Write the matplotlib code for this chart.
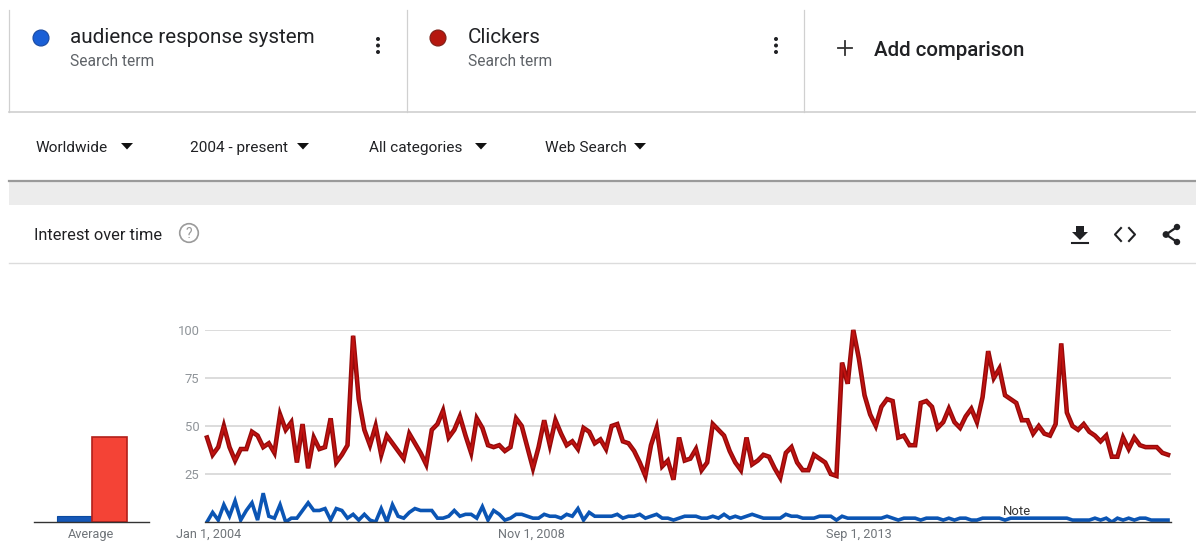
import matplotlib
matplotlib.use('Agg')
import matplotlib.pyplot as plt
import matplotlib.patheffects as pe
from matplotlib.patches import Circle, Polygon, Rectangle

plt.rcParams['font.family'] = ['Roboto', 'DejaVu Sans']

clickers = [44, 35, 39, 50, 39, 32, 38, 38, 47, 45, 39, 41, 36, 56, 48, 52, 31, 51, 28, 44,
            38, 39, 54, 31, 35, 40, 97, 64, 48, 40, 50, 35, 45, 41, 37, 33, 46, 41, 36, 30,
            48, 51, 58, 44, 48, 55, 45, 36, 54, 49, 40, 39, 40, 37, 39, 54, 50, 39, 28, 39,
            53, 40, 53, 46, 40, 42, 38, 49, 47, 41, 43, 38, 50, 51, 42, 41, 37, 31, 24, 40,
            49, 29, 32, 22, 44, 32, 33, 38, 27, 31, 51, 48, 45, 37, 31, 27, 44, 30, 32, 35,
            34, 28, 23, 36, 39, 31, 27, 27, 35, 33, 31, 25, 24, 83, 72, 100, 85, 66, 56, 50,
            60, 64, 63, 44, 45, 40, 40, 62, 63, 60, 49, 52, 59, 52, 49, 55, 59, 52, 65, 89,
            75, 80, 66, 64, 62, 53, 53, 46, 50, 46, 45, 51, 93, 57, 50, 48, 51, 47, 45, 42,
            45, 34, 34, 44, 38, 44, 40, 39, 39, 39, 36, 35]
audience = [0, 5, 1, 9, 3, 11, 1, 6, 10, 1, 15, 3, 2, 9, 0, 2, 2, 6, 10, 6,
            6, 7, 1, 7, 6, 2, 4, 1, 4, 1, 0, 7, 0, 9, 3, 2, 5, 7, 6, 6,
            6, 2, 2, 3, 6, 3, 4, 4, 2, 8, 1, 6, 4, 1, 2, 4, 4, 3, 2, 2,
            4, 3, 3, 2, 4, 3, 7, 1, 5, 3, 3, 3, 3, 4, 2, 3, 3, 4, 2, 3,
            4, 2, 2, 1, 2, 3, 3, 3, 2, 2, 3, 2, 4, 2, 3, 2, 3, 4, 3, 2,
            2, 2, 2, 4, 3, 3, 2, 2, 2, 3, 3, 3, 1, 3, 2, 2, 2, 2, 2, 2,
            2, 3, 2, 1, 2, 2, 2, 1, 2, 2, 2, 1, 2, 1, 2, 2, 1, 1, 2, 2,
            2, 2, 1, 2, 2, 2, 2, 2, 2, 2, 2, 2, 2, 2, 1, 1, 1, 1, 2, 1,
            2, 0, 2, 1, 2, 1, 2, 2, 1, 1, 1, 1]
avg_values = [3, 44.3]
y_ticks = [25, 50, 75, 100]
x_ticks = [0.2, 57.7, 116]
x_labels = ['Jan 1, 2004', 'Nov 1, 2008', 'Sep 1, 2013']
filters = ['Worldwide', '2004 - present', 'All categories', 'Web Search']
filter_x = [36, 190, 369, 545]
arrow_x = [127, 303, 481, 640]

BLUE = '#0b55b4'
RED = '#c01210'
W, H = 1196, 544
MONTH_PX = 5.62

fig = plt.figure(figsize=(W / 100, H / 100), dpi=100, facecolor='white')


def px_axes(x0, y0, x1, y1):
    # axes from pixel box, y measured from the top of the picture
    return fig.add_axes([x0 / W, 1 - y1 / H, (x1 - x0) / W, (y1 - y0) / H])


# page chrome, in pixel coordinates
ui = fig.add_axes([0, 0, 1, 1])
ui.set_xlim(0, W)
ui.set_ylim(H, 0)
ui.axis('off')

for x in [9, 407, 804]:
    ui.plot([x, x], [10, 112], color='#d0d0d0', lw=0.9)
ui.plot([9, W], [112, 112], color='#cfcfcf', lw=1.2)
ui.add_patch(Rectangle((9, 180), W - 9, 25, color='#ececec', lw=0))
ui.plot([9, W], [180.5, 180.5], color='#9a9a9a', lw=1.6)
ui.plot([9, W], [263, 263], color='#dcdcdc', lw=1.0)

# search terms
for x, name, col, edge, dot_x, menu_x in [(70, 'audience response system', '#1a5fd6', '#1b4aa0', 41, 378),
                                          (468, 'Clickers', '#b5170f', '#7d2018', 438, 776)]:
    ui.text(x, 37.5, name, fontsize=14.9, color='#202124', va='center')
    ui.text(x, 62, 'Search term', fontsize=11.2, color='#5f6368', va='center')
    ui.add_patch(Circle((dot_x, 38), 8, facecolor=col, edgecolor=edge, lw=0.8))
    for dy in [39, 45.5, 52]:
        ui.add_patch(Circle((menu_x, dy), 2, color='#202124', lw=0))

ui.plot([838, 852], [48, 48], color='#333333', lw=1.3)
ui.plot([845, 845], [41, 55], color='#333333', lw=1.3)
ui.text(874, 51, 'Add comparison', fontsize=14.8, color='#202124', va='center', fontweight='medium')

for x, ax_, label in zip(filter_x, arrow_x, filters):
    ui.text(x, 148, label, fontsize=11.1, color='#202124', va='center')
    ui.add_patch(Polygon([(ax_ - 6, 143), (ax_ + 6, 143), (ax_, 149.5)], color='#111111', lw=0))

ui.text(34, 235.5, 'Interest over time', fontsize=11.8, color='#202124', va='center')
ui.add_patch(Circle((189, 233), 9.3, facecolor='none', edgecolor='#9a9a9a', lw=1.2))
ui.text(189, 233.5, '?', fontsize=10, color='#9a9a9a', ha='center', va='center')

# download, embed and share icons
ui.add_patch(Polygon([(1076, 226), (1084, 226), (1084, 232), (1088, 232), (1080, 240), (1072, 232), (1076, 232)],
                     color='#202124', lw=0))
ui.plot([1072, 1088], [243, 243], color='#202124', lw=1.5)
ui.plot([1121, 1115, 1121], [228, 234.5, 241], color='#202124', lw=1.5)
ui.plot([1129, 1135, 1129], [228, 234.5, 241], color='#202124', lw=1.5)
ui.plot([1177, 1166, 1177], [227, 234.5, 242], color='#202124', lw=1.6)
for cx, cy, r in [(1177, 227, 3.2), (1166, 234.5, 3.4), (1177, 242, 3.2)]:
    ui.add_patch(Circle((cx, cy), r, color='#202124', lw=0))

# average bars
bar_ax = px_axes(34, 330, 149, 522)
bar_ax.patch.set_alpha(0)
bar_ax.bar([0], avg_values[0], width=35, color='#1558b8', edgecolor='#0b4aa0', lw=0.8)
bar_ax.bar([35], avg_values[1], width=35, color='#f44336', edgecolor='#b3201a', lw=1.2)
bar_ax.set_xlim(-40, 75)
bar_ax.set_ylim(0, 100)
bar_ax.set_yticks([])
bar_ax.set_xticks([17.5], ['Average'], fontsize=9.2, color='#6f7479')
bar_ax.tick_params(axis='x', length=0, pad=4)
for side in ['top', 'left', 'right']:
    bar_ax.spines[side].set_visible(False)
bar_ax.spines['bottom'].set_color('#333333')
bar_ax.spines['bottom'].set_linewidth(1.0)

# interest over time
ax = px_axes(205, 330, 1171, 522)
ax.patch.set_alpha(0)
ax.set_xlim(-2 / MONTH_PX, 964 / MONTH_PX)
ax.set_ylim(0, 100)
ax.yaxis.grid(True, color='#d2d2d2', lw=1.1)
ax.set_axisbelow(True)
ax.set_yticks(y_ticks, [str(v) for v in y_ticks], fontsize=9.4, color='#8f9499')
ax.set_xticks(x_ticks, x_labels, fontsize=9.1, color='#6f7479')
ax.tick_params(axis='both', length=0)
ax.tick_params(axis='y', pad=4)
ax.tick_params(axis='x', pad=4)
for side in ['top', 'left', 'right']:
    ax.spines[side].set_visible(False)
ax.spines['bottom'].set_color('#333333')
ax.spines['bottom'].set_linewidth(1.0)

months = list(range(len(clickers)))
ax.plot(months, audience, color=BLUE, lw=2.6, solid_joinstyle='miter')
ax.plot(months, clickers, color=RED, lw=1.4, solid_joinstyle='miter', clip_on=False,
        path_effects=[pe.Stroke(linewidth=3.3, foreground='#960a0a'), pe.Normal()])

ax.text(144.1, 2.2, 'Note', fontsize=9.4, color='#333333', ha='center', va='bottom')

fig.savefig('out.png', dpi=100)
